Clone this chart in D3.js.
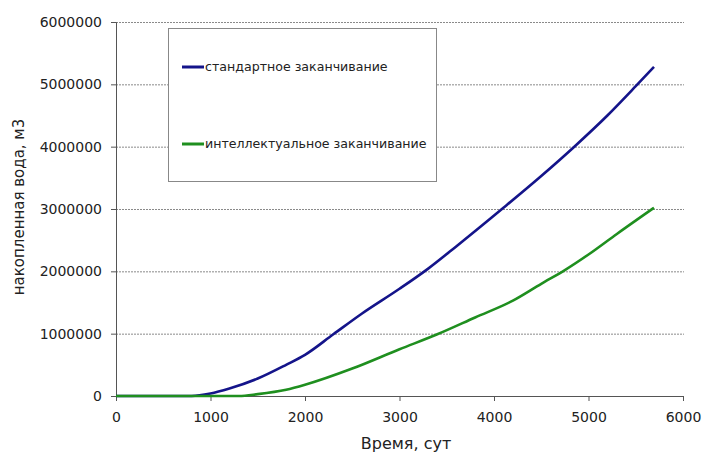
<!DOCTYPE html>
<html><head><meta charset="utf-8">
<script src="https://cdn.jsdelivr.net/npm/d3@7"></script>
<style>body{margin:0;background:#fff}svg{display:block}</style>
</head><body>
<svg id="chart" width="706" height="454"></svg>
<script>
const seriesNames = ["стандартное заканчивание", "интеллектуальное заканчивание"];
const standardDays = [0, 500, 800, 1000, 1200, 1500, 1800, 2000, 2300, 2600, 3000, 3300, 3600, 4100, 4500, 4850, 5200, 5500, 5693];
const standardWater = [0, 0, 0, 40000, 120000, 280000, 500000, 660000, 990000, 1320000, 1720000, 2040000, 2400000, 3020000, 3530000, 4000000, 4500000, 4970000, 5280000];
const smartDays = [0, 500, 1000, 1300, 1500, 1800, 2000, 2500, 3000, 3400, 3800, 4200, 4500, 4750, 5000, 5300, 5693];
const smartWater = [0, 0, 0, 0, 30000, 100000, 180000, 440000, 750000, 990000, 1260000, 1530000, 1800000, 2020000, 2270000, 2600000, 3020000];
const xTicks = [0, 1000, 2000, 3000, 4000, 5000, 6000];
const yTicks = [0, 1000000, 2000000, 3000000, 4000000, 5000000, 6000000];
const xTitle = "Время, сут";
const yTitle = "накопленная вода, м3";

const svg = d3.select("#chart");
const L = 116, R = 683, T = 22, B = 396;
const x = d3.scaleLinear().domain([0, 6000]).range([L, R]);
const y = d3.scaleLinear().domain([0, 6000000]).range([B, T]);
const font = "DejaVu Sans, sans-serif";

// gridlines
svg.append("g").selectAll("line").data(yTicks.filter(d => d > 0)).join("line")
  .attr("x1", L).attr("x2", R + 1).attr("y1", d => y(d) + 0.5).attr("y2", d => y(d) + 0.5)
  .attr("stroke", "#8a8a8a").attr("stroke-width", 1).attr("stroke-dasharray", "2,1");

// legend box (covers gridlines)
const lg = svg.append("g");
lg.append("rect").attr("x", 168.5).attr("y", 28.5).attr("width", 268).attr("height", 153)
  .attr("fill", "#fff").attr("stroke", "#888").attr("stroke-width", 1);
const colors = ["#14148a", "#1f8f1f"];
const legendY = [67, 144];
seriesNames.forEach((n, i) => {
  lg.append("line").attr("x1", 182).attr("x2", 204).attr("y1", legendY[i]).attr("y2", legendY[i])
    .attr("stroke", colors[i]).attr("stroke-width", 3);
  lg.append("text").attr("x", 205).attr("y", legendY[i]).attr("dy", "0.35em")
    .attr("font-family", font).attr("font-size", 12.6).attr("fill", "#222").text(n);
});

// axes
const xAxis = svg.append("g").attr("transform", `translate(0,${B})`)
  .call(d3.axisBottom(x).tickValues(xTicks).tickFormat(d3.format("d")).tickSize(5).tickPadding(11));
const yAxis = svg.append("g").attr("transform", `translate(${L},0)`)
  .call(d3.axisLeft(y).tickValues(yTicks).tickFormat(d3.format("d")).tickSize(5).tickPadding(9));
[xAxis, yAxis].forEach(g => {
  g.select(".domain").attr("stroke", "#555");
  g.selectAll(".tick line").attr("stroke", "#555");
  g.selectAll("text").attr("font-family", font).attr("font-size", 14).attr("fill", "#222");
});

// lines
const line = d3.line().x(d => x(d[0])).y(d => y(d[1])).curve(d3.curveMonotoneX);
const data = [
  d3.zip(standardDays, standardWater),
  d3.zip(smartDays, smartWater)
];
data.forEach((d, i) => {
  svg.append("path").datum(d).attr("d", line).attr("fill", "none")
    .attr("stroke", colors[i]).attr("stroke-width", 2.6).attr("stroke-linejoin", "round");
});

// titles
svg.append("text").attr("x", 406).attr("y", 449).attr("text-anchor", "middle")
  .attr("font-family", font).attr("font-size", 16).attr("fill", "#222").text(xTitle);
svg.append("text").attr("transform", "translate(19,207) rotate(-90)").attr("text-anchor", "middle")
  .attr("dy", "0.35em").attr("font-family", font).attr("font-size", 15).attr("fill", "#222").text(yTitle);
</script>
</body></html>
